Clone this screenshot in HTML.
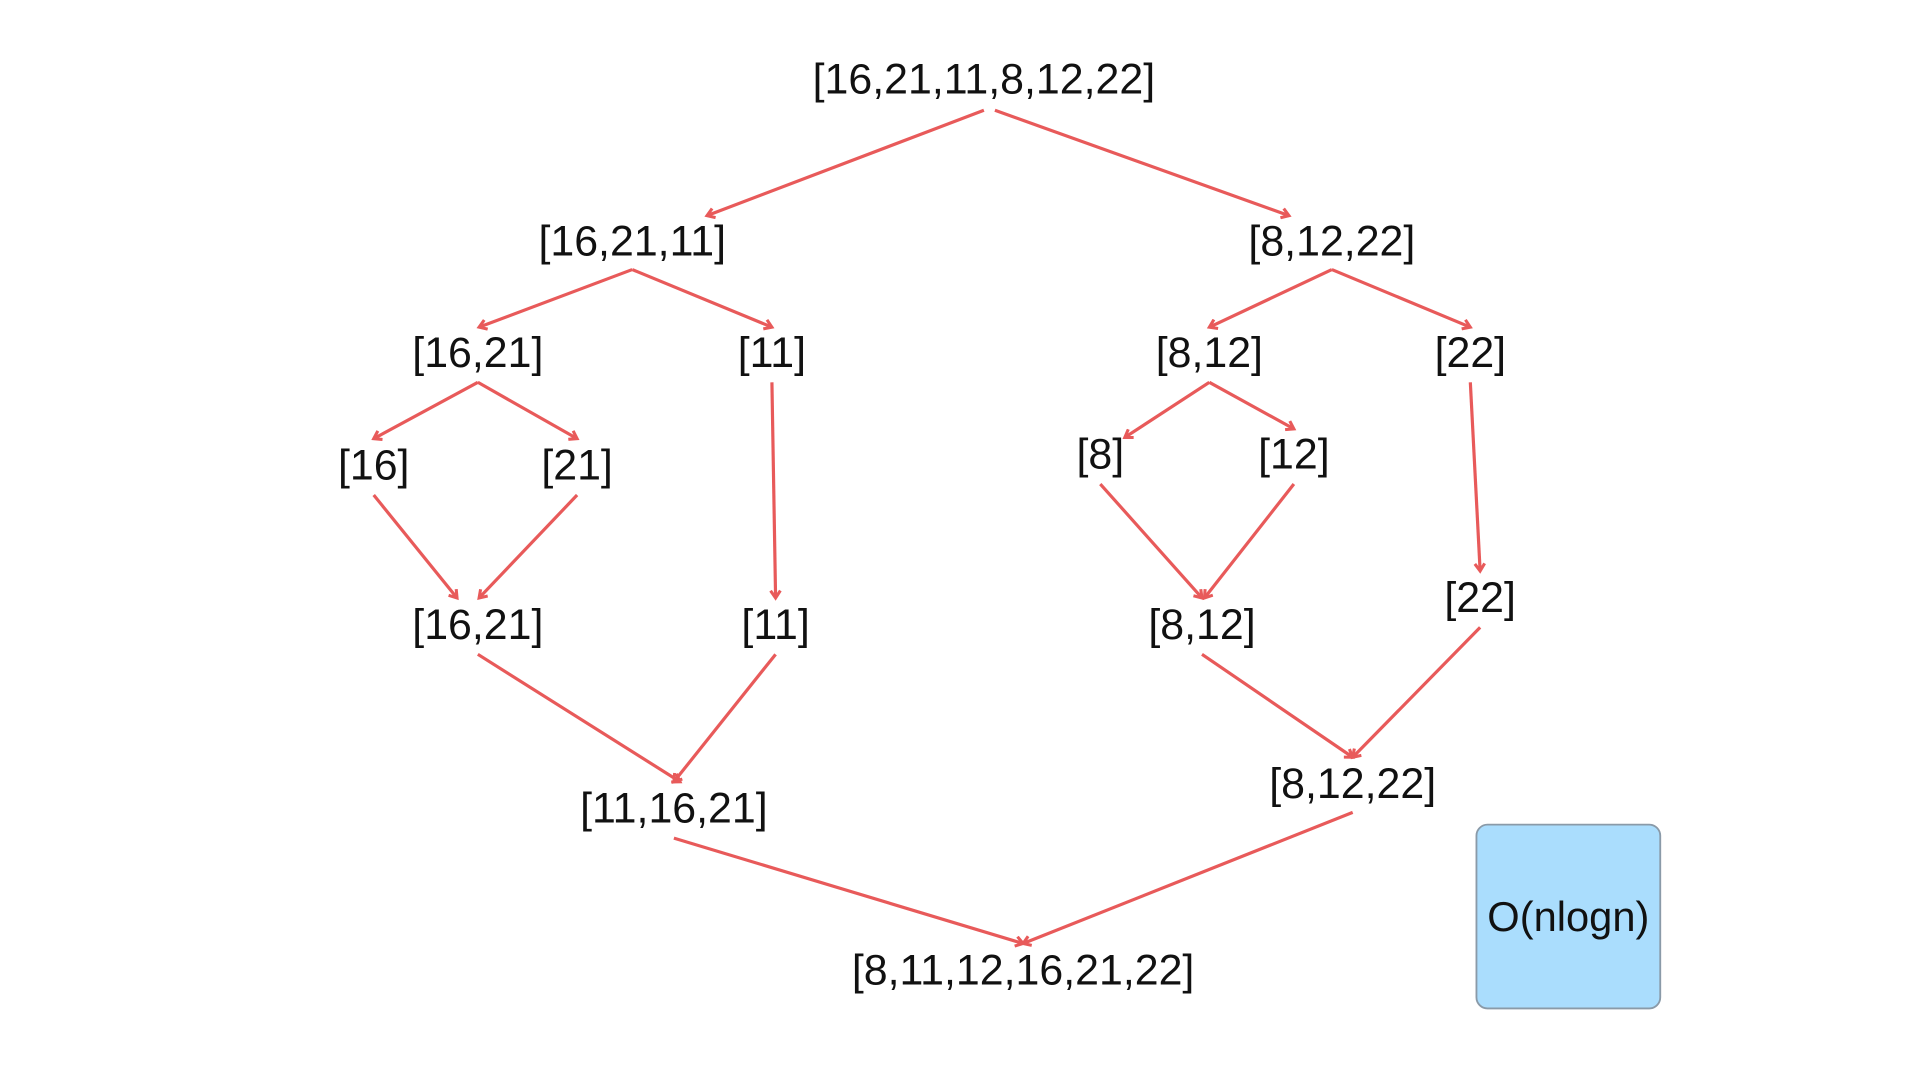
<!DOCTYPE html>
<html><head><meta charset="utf-8"><style>
html,body{margin:0;padding:0;background:#fff;width:1920px;height:1080px;overflow:hidden}
svg{display:block}
text{font-family:"Liberation Sans",sans-serif;fill:#111;text-anchor:middle;dominant-baseline:central}
</style></head><body>
<svg id="chart" width="1920" height="1080" viewBox="0 0 1567 881.4" preserveAspectRatio="none">
<defs><marker id="ah" markerWidth="10" markerHeight="10" refX="7" refY="5" orient="auto" markerUnits="userSpaceOnUse"><path d="M1,1 L7,5 L1,9" fill="none" stroke="#e85a5a" stroke-width="2.5"/></marker></defs>
<g id="edges"></g>
<g id="nodes"></g>
<rect x="1205" y="673" width="150" height="150" rx="9" fill="#aaddfd" stroke="#8a9aa8" stroke-width="1.5"/>
<text x="1280" y="748" font-size="34">O(nlogn)</text>
</svg>
<script>
const labels=["[16,21,11,8,12,22]","[16,21,11]","[8,12,22]","[16,21]","[11]","[8,12]","[22]","[16]","[21]","[8]","[12]","[16,21]","[11]","[8,12]","[22]","[11,16,21]","[8,12,22]","[8,11,12,16,21,22]"];
const nodeX=[803,516,1087,390,630,987,1200,305,471,898,1056,390,633,981,1208,550,1104,835];
const nodeY=[65,197,197,288,288,288,288,380,380,371,371,510,510,510,488,660,640,792];
const edges=[[0,1,[803,90],[577,176]],[0,2,[812,90],[1052,176]],[1,3,[516,220],[391,267]],[1,4,[516,220],[630,267]],[2,5,[1087,220],[987,267]],[2,6,[1087,220],[1200,267]],[3,7,[390,312],[305,358]],[3,8,[390,312],[471,358]],[4,12,[630,312],[633,488]],[5,9,[987,312],[918,357]],[5,10,[987,312],[1056,350]],[6,14,[1200,312],[1208,466]],[7,11,[305,404],[373,488]],[8,11,[471,404],[391,488]],[9,13,[898,395],[981,488]],[10,13,[1056,395],[983,488]],[11,15,[390,534],[555,638]],[12,15,[633,534],[550,638]],[13,16,[981,534],[1104,618]],[14,16,[1208,512],[1104,618]],[15,17,[550,684],[835,770]],[16,17,[1104,663],[835,770]]];
const NS="http://www.w3.org/2000/svg";
const eg=document.getElementById('edges'),ng=document.getElementById('nodes');
edges.forEach(e=>{const l=document.createElementNS(NS,'line');
l.setAttribute('x1',e[2][0]);l.setAttribute('y1',e[2][1]);l.setAttribute('x2',e[3][0]);l.setAttribute('y2',e[3][1]);
l.setAttribute('stroke','#e85a5a');l.setAttribute('stroke-width','2.6');l.setAttribute('marker-end','url(#ah)');


eg.appendChild(l);});
labels.forEach((s,i)=>{const t=document.createElementNS(NS,'text');
t.setAttribute('x',nodeX[i]);t.setAttribute('y',nodeY[i]);t.setAttribute('font-size','35');t.textContent=s;


ng.appendChild(t);});
</script>
</body></html>
